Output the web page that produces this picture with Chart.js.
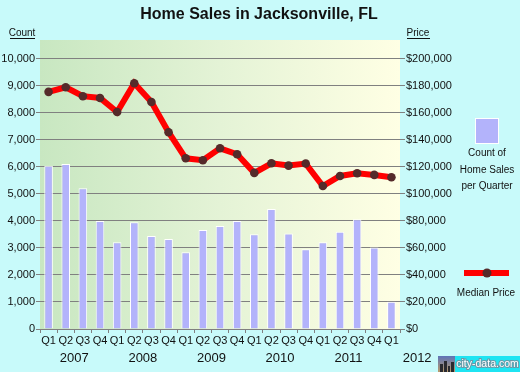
<!DOCTYPE html>
<html>
<head>
<meta charset="utf-8">
<script src="https://cdn.jsdelivr.net/npm/chart.js@4"></script>
<style>
  html, body { margin: 0; padding: 0; background: #c8fafa; }
  canvas { display: block; }
</style>
</head>
<body>
<canvas id="myChart" width="520" height="372"></canvas>
<script>
// data
const quarterLabels = ["Q1","Q2","Q3","Q4","Q1","Q2","Q3","Q4","Q1","Q2","Q3","Q4",
                       "Q1","Q2","Q3","Q4","Q1","Q2","Q3","Q4","Q1"];
const yearLabels = ["2007", "2008", "2009", "2010", "2011", "2012"];
const salesCount = [6040, 6110, 5210, 4000, 3210, 3950, 3440, 3330, 2840, 3670, 3810, 4000,
                    3510, 4440, 3540, 2950, 3210, 3600, 4060, 3020, 1010];
const medianPrice = [175600, 179000, 172400, 171100, 160700, 182000, 168100, 145700, 126400, 125000, 133800, 129400,
                     115600, 122700, 121000, 122500, 105900, 113300, 115300, 114100, 112400];
const countTicks = [0, 1000, 2000, 3000, 4000, 5000, 6000, 7000, 8000, 9000, 10000];
const priceTicks = [0, 20000, 40000, 60000, 80000, 100000, 120000, 140000, 160000, 180000, 200000];

const FONT = "Arial, 'Liberation Sans', sans-serif";
const gridGray = "#808080";

const decorPlugin = {
    id: "decor",
    beforeDraw(chart) {
        const ctx = chart.ctx;
        const a = chart.chartArea;
        ctx.save();
        ctx.fillStyle = "#c8fafa";
        ctx.fillRect(0, 0, chart.width, chart.height);
        const g = ctx.createLinearGradient(a.left, 0, a.right, 0);
        g.addColorStop(0, "#c8e7c1");
        g.addColorStop(0.5, "#e4f3d6");
        g.addColorStop(1, "#ffffe4");
        ctx.fillStyle = g;
        ctx.fillRect(a.left, a.top, a.right - a.left, a.bottom - a.top);
        ctx.restore();
    },
    afterDraw(chart) {
        const ctx = chart.ctx;
        const x = chart.scales.x;
        ctx.save();
        ctx.fillStyle = "#111";
        ctx.textAlign = "center";
        ctx.textBaseline = "middle";

        // title
        ctx.font = "bold 16px " + FONT;
        ctx.fillText("Home Sales in Jacksonville, FL", 259, 15);

        // axis captions
        ctx.font = "10px " + FONT;
        ctx.fillText("Count", 22, 33);
        ctx.fillRect(10, 38, 25, 1);
        ctx.fillText("Price", 418, 33);
        ctx.fillRect(407, 38, 23, 1);

        // years
        ctx.font = "13px " + FONT;
        yearLabels.forEach((y, i) => {
            ctx.fillText(y, x.getPixelForValue(i * 4 + 1.5), 358);
        });

        // legend: bars
        ctx.fillStyle = "#b3b3fb";
        ctx.strokeStyle = "#ffffff";
        ctx.lineWidth = 1;
        ctx.fillRect(475, 118, 23, 25);
        ctx.strokeRect(475.5, 118.5, 23, 25);
        ctx.fillStyle = "#111";
        ctx.font = "10px " + FONT;
        ctx.fillText("Count of", 487, 153);
        ctx.fillText("Home Sales", 487, 170);
        ctx.fillText("per Quarter", 487, 186);

        // legend: line
        ctx.fillStyle = "#ff0000";
        ctx.fillRect(464, 270, 45, 6);
        ctx.fillStyle = "#552a2a";
        ctx.beginPath();
        ctx.arc(487, 273, 4.5, 0, Math.PI * 2);
        ctx.fill();
        ctx.fillStyle = "#111";
        ctx.fillText("Median Price", 486, 293);

        // city-data.com logo
        const lg = ctx.createLinearGradient(0, 356, 0, 372);
        lg.addColorStop(0, "#5e74b8");
        lg.addColorStop(1, "#b89a6a");
        ctx.fillStyle = lg;
        ctx.fillRect(438, 356, 17, 16);
        ctx.fillStyle = "#2a2a30";
        ctx.fillRect(440, 364, 3, 8);
        ctx.fillRect(444, 361, 3, 11);
        ctx.fillRect(448, 366, 2, 6);
        ctx.fillRect(451, 362, 3, 10);
        ctx.fillStyle = "#1fe4f2";
        ctx.fillRect(455, 356, 65, 16);
        ctx.font = "10.5px " + FONT;
        ctx.lineWidth = 2;
        ctx.strokeStyle = "#6a9aa8";
        ctx.strokeText("city-data.com", 487.5, 364.5);
        ctx.fillStyle = "#ffffff";
        ctx.fillText("city-data.com", 487.5, 364.5);
        ctx.restore();
    }
};

new Chart(document.getElementById("myChart").getContext("2d"), {
    type: "bar",
    data: {
        labels: quarterLabels,
        datasets: [
            {
                type: "line",
                label: "Median Price",
                data: medianPrice,
                yAxisID: "yPrice",
                borderColor: "#ff0000",
                borderWidth: 6,
                pointRadius: 4.3,
                pointBackgroundColor: "#552a2a",
                pointBorderWidth: 0,
                tension: 0,
                order: 0
            },
            {
                label: "Count of Home Sales per Quarter",
                data: salesCount,
                yAxisID: "y",
                backgroundColor: "#b3b3fb",
                borderColor: "#ffffff",
                borderWidth: { top: 1, left: 1, right: 1, bottom: 0 },
                barPercentage: 0.5,
                categoryPercentage: 1,
                order: 1
            }
        ]
    },
    options: {
        responsive: false,
        animation: false,
        devicePixelRatio: 1,
        layout: { padding: { top: 40, left: 0, right: 0, bottom: 0 } },
        plugins: {
            legend: { display: false },
            title: { display: false },
            tooltip: { enabled: false }
        },
        scales: {
            x: {
                offset: true,
                border: { display: false },
                grid: { offset: true, drawOnChartArea: false, drawTicks: true, tickLength: 4, color: gridGray },
                ticks: { color: "#111", font: { family: FONT, size: 11 }, padding: 1, maxRotation: 0, autoSkip: false },
                afterFit(s) { s.height = 43; }
            },
            y: {
                position: "left",
                min: 0,
                max: 10700,
                border: { display: false },
                grid: { color: gridGray, tickLength: 4 },
                ticks: {
                    color: "#111",
                    font: { family: FONT, size: 11 },
                    padding: 1,
                    callback: (v) => v.toLocaleString("en-US")
                },
                afterBuildTicks(s) { s.ticks = countTicks.map(v => ({ value: v })); },
                afterFit(s) { s.width = 40; }
            },
            yPrice: {
                position: "right",
                min: 0,
                max: 214000,
                border: { display: false },
                grid: { drawOnChartArea: false, color: gridGray, tickLength: 5 },
                ticks: {
                    color: "#111",
                    font: { family: FONT, size: 11 },
                    padding: 1,
                    callback: (v) => "$" + v.toLocaleString("en-US")
                },
                afterBuildTicks(s) { s.ticks = priceTicks.map(v => ({ value: v })); },
                afterFit(s) { s.width = 120; }
            }
        }
    },
    plugins: [decorPlugin]
});
</script>
</body>
</html>
